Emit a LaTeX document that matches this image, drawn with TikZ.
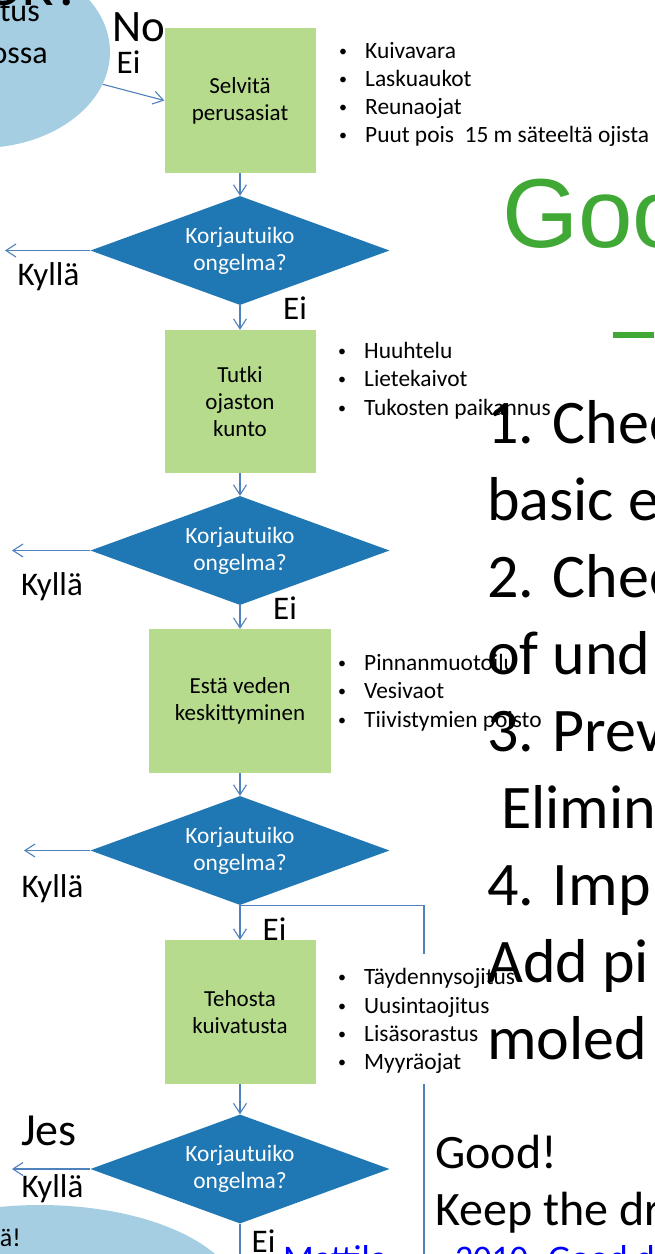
\documentclass[tikz,border=0pt]{standalone}
\usepackage{fontspec}
\setmainfont{Carlito}
\newfontfamily\otsikkofont{Liberation Sans}
\usepackage{tikz}
\usetikzlibrary{arrows.meta,shapes.geometric}
\definecolor{ojaBlue}  {RGB}{31,  119, 180}
\definecolor{ojaLine}  {RGB}{79,  129, 189}
\definecolor{ojaGreen} {RGB}{182, 219, 141}
\definecolor{ojaSky}   {RGB}{166, 206, 227}
\definecolor{ojaTitle} {RGB}{64,  168,  52}
\newcommand{\koko}[2]{\fontsize{#1}{#2}\selectfont}
\newcommand{\kohtamerkki}{\makebox[26pt][l]{\raisebox{2pt}{\koko{16}{16}\textbullet}}}

\begin{document}
\begin{tikzpicture}[x=1pt,y=-1pt,
    laatikko/.style={fill=ojaGreen,minimum width=151pt,minimum height=144pt,
      align=center,inner sep=0pt,font=\koko{23}{27}},
    kysymys/.style={diamond,fill=ojaBlue,minimum width=299pt,minimum height=109pt,
      aspect=2.74,inner sep=0pt,align=center,text=white,font=\koko{23.4}{27}},
    nuoli/.style={ojaLine,line width=1.1pt,-{Straight Barb[length=10pt,width=13pt]}},
    viiva/.style={ojaLine,line width=1.1pt},
    vastaus/.style={font=\koko{33}{36},anchor=base,inner sep=0pt},
    kohta/.style={font=\koko{23.4}{28},anchor=base west,inner sep=0pt},
    iso/.style={font=\koko{62}{76},anchor=base west,inner sep=0pt}]
        \path[use as bounding box,fill=white] (0,0) rectangle (654,1254);
        % Pallot
        \node[ellipse,fill=ojaSky,minimum width=260pt,minimum height=192pt,
          inner sep=0pt] (ok) at (-20,52) {};
        \node[font=\koko{60}{60},anchor=base east,inner sep=0pt] (okOtsikko)
          at (82,5) {OK?};
        \node[font=\koko{32}{36},anchor=base east,inner sep=0pt] (ok1)
          at (40,21) {Kuivatus};
        \node[font=\koko{32}{36},anchor=base east,inner sep=0pt] (ok2)
          at (48,63) {kunnossa};
        \node[ellipse,fill=ojaSky,minimum width=400pt,minimum height=190pt,
          inner sep=0pt] (hyva) at (40,1300) {};
        \node[font=\koko{26}{30},anchor=base east,inner sep=0pt] (hyva1)
          at (21,1246) {Hyvä!};
        % Vastaukset
        \node[vastaus,font=\koko{45}{50}] (no) at (139,41) {No};
        \node[vastaus,font=\koko{46}{50}] (jes) at (49,1145) {Jes};
        \foreach \n/\x/\y in {0/128.5/73,1/295/319,2/285/619,3/274.5/940,4/263.5/1252}{
          \node[vastaus] (ei\n) at (\x,\y) {Ei};
        }
        \foreach \n/\x/\y in {1/48.5/285,2/52/595,3/52.5/897,4/52.5/1197}{
          \node[vastaus] (kylla\n) at (\x,\y) {Kyllä};
        }
        % Laatikot ja kysymykset
        \node[laatikko,minimum height=145pt] (b1) at (240,100.5) {Selvitä\\perusasiat};
        \node[laatikko,minimum height=143pt] (b2) at (240,401.5) {Tutki\\ojaston\\kunto};
        \node[laatikko,minimum width=182pt] (b3) at (240,701) {Estä veden\\keskittyminen};
        \node[laatikko] (b4) at (240,1012) {Tehosta\\kuivatusta};
        \foreach \i/\y in {1/250.5,2/550.5,3/850.5,4/1169}{
          \node[kysymys] (k\i) at (240,\y) {Korjautuiko\\ongelma?};
        }
        % Nuolet
        \draw[nuoli] (ok) -- (b1.west);
        \foreach \i in {1,2,3,4}{
          \draw[nuoli] (b\i) -- (k\i);
        }
        \draw[nuoli] (k1) -- (b2);
        \draw[nuoli] (k2) -- (b3);
        \draw[nuoli] (k3) -- (b4);
        \foreach \i/\x in {1/5,2/12,3/24,4/12}{
          \coordinate (kyl\i) at (k\i.west -| \x,0);
          \draw[nuoli] (k\i.west) -- (kyl\i);
        }
        \coordinate (alas) at (240,1290);
        \draw[nuoli] (k4) -- (alas);
        \coordinate (alaoikea) at (424,1290);
        \draw[viiva] (k3.south) -| (alaoikea);
        % Listat
        \fill[white] (334,954) rectangle (480,1084);
        \foreach \t [count=\n] in {Kuivavara,Laskuaukot,Reunaojat,
            {Puut pois\ \ 15 m säteeltä ojista}}{
          \node[kohta] (l1-\n) at (339,30+28*\n) {\kohtamerkki\t};
        }
        \foreach \t [count=\n] in {Huuhtelu,Lietekaivot,Tukosten paikannus}{
          \node[kohta] (l2-\n) at (338,329.5+28.5*\n) {\kohtamerkki\t};
        }
        \foreach \t [count=\n] in {Pinnanmuotoilu,Vesivaot,Tiivistymien poisto}{
          \node[kohta] (l3-\n) at (338,641.5+28.5*\n) {\kohtamerkki\t};
        }
        \foreach \t [count=\n] in {Täydennysojitus,Uusintaojitus,Lisäsorastus,Myyräojat}{
          \node[kohta] (l4-\n) at (338,956.5+28.3*\n) {\kohtamerkki\t};
        }
        % Oikea puoli
        \node[anchor=base west,inner sep=0pt,text=ojaTitle,
          font=\otsikkofont\koko{98}{110}] (otsikko) at (502,247) {Good};
        \fill[ojaTitle] (613,332) rectangle (654,338);
        \foreach \t [count=\n] in {1. Chec,basic e,2. Chec,of und,3. Prev,
            \hspace{14pt}Elimin,4. Imp,Add pi,moled}{
          \node[iso] (r\n) at (487,366+77*\n) {\t};
        }
        \node[anchor=base west,inner sep=0pt,font=\koko{48}{56}] (good)
          at (435,1168) {Good!};
        \node[anchor=base west,inner sep=0pt,font=\koko{48}{56}] (keep)
          at (435,1225) {Keep the dr};
        \node[anchor=base west,inner sep=0pt,font=\koko{36}{40},text=blue] (lahde1)
          at (283,1270) {Mattila};
        \node[anchor=base west,inner sep=0pt,font=\koko{36}{40},text=blue] (lahde2)
          at (455,1270) {2010. Good drainage};
\end{tikzpicture}
\end{document}
